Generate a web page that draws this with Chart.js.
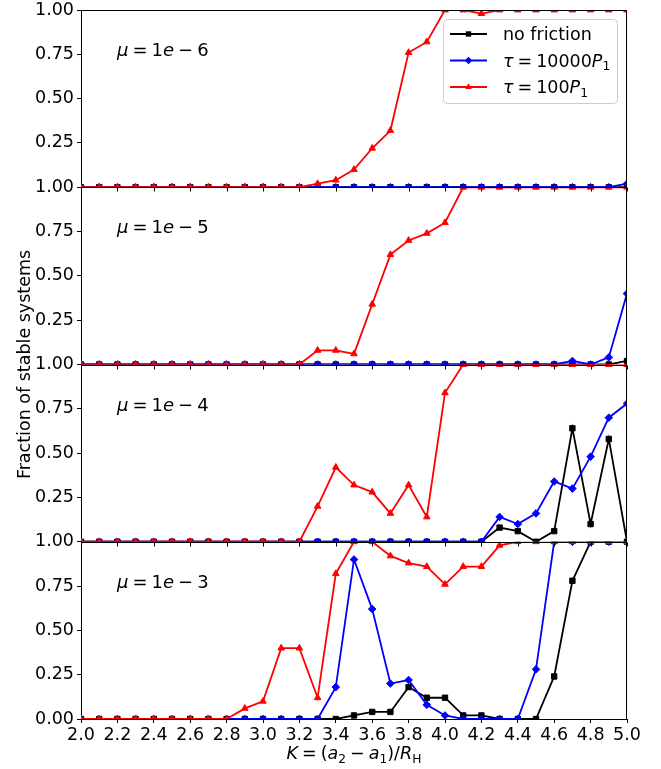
<!DOCTYPE html>
<html>
<head>
<meta charset="utf-8">
<script src="https://cdn.jsdelivr.net/npm/chart.js@4.4.0/dist/chart.umd.min.js"></script>
<style>
  html, body { margin: 0; padding: 0; background: #fff; }
  #wrap { width: 661px; height: 769px; }
</style>
</head>
<body>
<div id="wrap"><canvas id="chart" width="661" height="769"></canvas></div>
<script>
// K = (a2 - a1) / R_H
const kValues = [2.0, 2.1, 2.2, 2.3, 2.4, 2.5, 2.6, 2.7, 2.8, 2.9, 3.0, 3.1, 3.2, 3.3, 3.4, 3.5,
  3.6, 3.7, 3.8, 3.9, 4.0, 4.1, 4.2, 4.3, 4.4, 4.5, 4.6, 4.7, 4.8, 4.9, 5.0];
const xTicks = [2.0, 2.2, 2.4, 2.6, 2.8, 3.0, 3.2, 3.4, 3.6, 3.8, 4.0, 4.2, 4.4, 4.6, 4.8, 5.0];
const yTicks = [0, 0.25, 0.5, 0.75, 1.0];

// mu = 1e-6
const mu6None = [0,0,0,0,0,0,0,0,0,0,0,0,0,0,0,0,0,0,0,0,0,0,0,0,0,0,0,0,0,0,0];
const mu6Slow = [0,0,0,0,0,0,0,0,0,0,0,0,0,0,0,0,0,0,0,0,0,0,0,0,0,0,0,0,0,0,0.02];
const mu6Fast = [0,0,0,0,0,0,0,0,0,0,0,0,0,0.02,0.04,0.10,0.22,0.32,0.76,0.82,1,1,0.98,1,1,1,1,1,1,1,1];
// mu = 1e-5
const mu5None = [0,0,0,0,0,0,0,0,0,0,0,0,0,0,0,0,0,0,0,0,0,0,0,0,0,0,0,0,0,0,0.02];
const mu5Slow = [0,0,0,0,0,0,0,0,0,0,0,0,0,0,0,0,0,0,0,0,0,0,0,0,0,0,0,0.02,0,0.04,0.40];
const mu5Fast = [0,0,0,0,0,0,0,0,0,0,0,0,0,0.08,0.08,0.06,0.34,0.62,0.70,0.74,0.80,1,1,1,1,1,1,1,1,1,1];
// mu = 1e-4
const mu4None = [0,0,0,0,0,0,0,0,0,0,0,0,0,0,0,0,0,0,0,0,0,0,0,0.08,0.06,0,0.06,0.64,0.10,0.58,0];
const mu4Slow = [0,0,0,0,0,0,0,0,0,0,0,0,0,0,0,0,0,0,0,0,0,0,0,0.14,0.10,0.16,0.34,0.30,0.48,0.70,0.78];
const mu4Fast = [0,0,0,0,0,0,0,0,0,0,0,0,0,0.20,0.42,0.32,0.28,0.16,0.32,0.14,0.84,1,1,1,1,1,1,1,1,1,1];
// mu = 1e-3
const mu3None = [0,0,0,0,0,0,0,0,0,0,0,0,0,0,0,0.02,0.04,0.04,0.18,0.12,0.12,0.02,0.02,0,0,0,0.24,0.78,1,1,1];
const mu3Slow = [0,0,0,0,0,0,0,0,0,0,0,0,0,0,0.18,0.90,0.62,0.20,0.22,0.08,0.02,0,0,0,0,0.28,1,1,1,1,1];
const mu3Fast = [0,0,0,0,0,0,0,0,0,0.06,0.10,0.40,0.40,0.12,0.82,1,1,0.92,0.88,0.86,0.76,0.86,0.86,0.98,1,1,1,1,1,1,1];

const FONT = "'DejaVu Sans', sans-serif";
const FS = 17.5;
Chart.defaults.font.family = FONT;
Chart.defaults.font.size = FS;
Chart.defaults.color = '#000';

const panels = [
  { id: 'y1', exp: '6', none: mu6None, slow: mu6Slow, fast: mu6Fast },
  { id: 'y2', exp: '5', none: mu5None, slow: mu5Slow, fast: mu5Fast },
  { id: 'y3', exp: '4', none: mu4None, slow: mu4Slow, fast: mu4Fast },
  { id: 'y4', exp: '3', none: mu3None, slow: mu3Slow, fast: mu3Fast }
];

const series = [
  { key: 'none', label: 'no friction', color: '#000000', style: 'rect', radius: 3.8, order: 2 },
  { key: 'slow', label: 'tau = 10000 P1', color: '#0000ff', style: 'rectRot', radius: 3.8, order: 1 },
  { key: 'fast', label: 'tau = 100 P1', color: '#ff0000', style: 'triangle', radius: 3.8, order: 0 }
];

const datasets = [];
panels.forEach(p => {
  series.forEach(s => {
    datasets.push({
      label: s.label,
      data: kValues.map((k, i) => ({ x: k, y: p[s.key][i] })),
      yAxisID: p.id,
      borderColor: s.color,
      backgroundColor: s.color,
      pointBackgroundColor: s.color,
      pointBorderColor: s.color,
      pointStyle: s.style,
      pointRadius: s.radius,
      pointBorderWidth: 1,
      borderWidth: 1.8,
      tension: 0,
      clip: false,
      order: s.order
    });
  });
});

const scales = {
  x: {
    type: 'linear', min: 2, max: 5,
    afterBuildTicks: s => { s.ticks = xTicks.map(v => ({ value: v })); },
    ticks: { callback: v => v.toFixed(1), padding: 2, maxRotation: 0, autoSkip: false },
    grid: { drawOnChartArea: false, tickLength: 4, color: '#000' },
    border: { color: '#000' },
    afterFit: s => { s.height = 50; s.paddingLeft = 0; s.paddingRight = 0; }
  }
};
panels.forEach((p, i) => {
  const bottom = i === panels.length - 1;
  scales[p.id] = {
    type: 'linear', min: 0, max: 1, position: 'left',
    stack: 'panels', stackWeight: 1, weight: panels.length - i,
    afterBuildTicks: s => { s.ticks = yTicks.map(v => ({ value: v })); },
    ticks: { callback: v => (v === 0 && !bottom) ? '' : v.toFixed(2), padding: 3, autoSkip: false },
    grid: { drawOnChartArea: false, tickLength: 4, color: '#000' },
    border: { color: '#000' },
    afterFit: s => { s.width = 81; s.paddingTop = 0; s.paddingBottom = 0; }
  };
});

// text made of pieces: plain, italic, subscript, or fixed gaps
function pieceFont(r, size) {
  const sz = r.sub ? size * 0.7 : size;
  return (r.it ? 'italic ' : '') + sz + 'px ' + FONT;
}
function runsWidth(ctx, runs, size) {
  let w = 0;
  runs.forEach(r => {
    if (r.gap) { w += r.gap; return; }
    ctx.font = pieceFont(r, size);
    w += ctx.measureText(r.t).width;
  });
  return w;
}
function drawRuns(ctx, runs, x, y, size, align) {
  const w = runsWidth(ctx, runs, size);
  let cx = align === 'center' ? x - w / 2 : x;
  ctx.textAlign = 'left';
  ctx.textBaseline = 'alphabetic';
  runs.forEach(r => {
    if (r.gap) { cx += r.gap; return; }
    ctx.font = pieceFont(r, size);
    ctx.fillText(r.t, cx, y + (r.sub ? size * 0.22 : 0));
    cx += ctx.measureText(r.t).width;
  });
}

function marker(ctx, style, x, y, r, color) {
  ctx.fillStyle = color;
  ctx.beginPath();
  if (style === 'rect') {
    const h = r * Math.SQRT1_2;
    ctx.rect(x - h, y - h, 2 * h, 2 * h);
  } else if (style === 'rectRot') {
    ctx.moveTo(x, y - r); ctx.lineTo(x + r, y); ctx.lineTo(x, y + r); ctx.lineTo(x - r, y);
    ctx.closePath();
  } else {
    ctx.moveTo(x, y - r); ctx.lineTo(x + r * 0.866, y + r * 0.5); ctx.lineTo(x - r * 0.866, y + r * 0.5);
    ctx.closePath();
  }
  ctx.fill();
}

const legendRuns = [
  [{ t: 'no friction' }],
  [{ t: 'τ', it: true }, { gap: 4 }, { t: '=' }, { gap: 4 }, { t: '10000' }, { t: 'P', it: true }, { t: '1', sub: true }],
  [{ t: 'τ', it: true }, { gap: 4 }, { t: '=' }, { gap: 4 }, { t: '100' }, { t: 'P', it: true }, { t: '1', sub: true }]
];

const decor = {
  id: 'decor',
  // clip every dataset to its own panel, like separate axes would
  beforeDatasetDraw(chart, args) {
    const { ctx, chartArea: a } = chart;
    const s = chart.scales[args.meta.yAxisID];
    ctx.save();
    ctx.beginPath();
    ctx.rect(a.left, s.top, a.right - a.left, s.bottom - s.top);
    ctx.clip();
  },
  afterDatasetDraw(chart) {
    chart.ctx.restore();
  },
  afterDatasetsDraw(chart) {
    const { ctx, chartArea: a, scales: sc } = chart;
    const xs = sc.x;
    ctx.save();
    ctx.strokeStyle = '#000';
    ctx.lineWidth = 1;
    panels.forEach((p, i) => {
      const s = sc[p.id];
      const top = Math.round(s.top) + 0.5, bot = Math.round(s.bottom) + 0.5;
      const l = Math.round(a.left) + 0.5, r = Math.round(a.right) - 0.5;
      ctx.beginPath();
      ctx.moveTo(l, top); ctx.lineTo(r, top); ctx.lineTo(r, bot); ctx.lineTo(l, bot);
      ctx.stroke();
      if (i < panels.length - 1) {
        ctx.beginPath();
        xTicks.forEach(v => {
          const px = Math.round(xs.getPixelForValue(v)) + 0.5;
          ctx.moveTo(px, bot); ctx.lineTo(px, bot + 4);
        });
        ctx.stroke();
      }
      ctx.fillStyle = '#000';
      drawRuns(ctx, [{ t: 'μ', it: true }, { gap: 4 }, { t: '=' }, { gap: 4 }, { t: '1' },
        { t: 'e', it: true }, { gap: 4 }, { t: '−' }, { gap: 4 }, { t: p.exp }],
        a.left + 36, s.top + 46, 18, 'left');
    });
    ctx.restore();
  },
  afterDraw(chart) {
    const { ctx, chartArea: a } = chart;
    ctx.save();
    // legend
    const bx = a.right - 184, by = a.top + 9, bw = 174, bh = 84;
    ctx.fillStyle = 'rgba(255,255,255,0.8)';
    ctx.strokeStyle = '#cccccc';
    ctx.lineWidth = 1;
    ctx.beginPath();
    ctx.roundRect(bx + 0.5, by + 0.5, bw, bh, 4);
    ctx.fill();
    ctx.stroke();
    series.forEach((s, i) => {
      const cy = by + 15 + i * 26.5;
      ctx.strokeStyle = s.color;
      ctx.lineWidth = 1.8;
      ctx.beginPath();
      ctx.moveTo(bx + 7, cy); ctx.lineTo(bx + 44, cy);
      ctx.stroke();
      marker(ctx, s.style, bx + 25.5, cy, s.radius, s.color);
      ctx.fillStyle = '#000';
      drawRuns(ctx, legendRuns[i], bx + 60, cy + 6, FS, 'left');
    });
    // axis titles
    ctx.fillStyle = '#000';
    drawRuns(ctx, [{ t: 'K', it: true }, { gap: 4 }, { t: '=' }, { gap: 4 }, { t: '(' }, { t: 'a', it: true },
      { t: '2', sub: true }, { gap: 4 }, { t: '−' }, { gap: 4 }, { t: 'a', it: true }, { t: '1', sub: true },
      { t: ')/' }, { t: 'R', it: true }, { t: 'H', sub: true }],
      (a.left + a.right) / 2, 759, FS, 'center');
    ctx.translate(30, (a.top + a.bottom) / 2);
    ctx.rotate(-Math.PI / 2);
    ctx.font = FS + 'px ' + FONT;
    ctx.textAlign = 'center';
    ctx.textBaseline = 'alphabetic';
    ctx.fillText('Fraction of stable systems', 0, 0);
    ctx.restore();
  }
};

new Chart(document.getElementById('chart'), {
  type: 'line',
  data: { datasets },
  options: {
    responsive: false,
    animation: false,
    layout: { padding: { left: 0, right: 34, top: 10, bottom: 0 } },
    plugins: { legend: { display: false }, tooltip: { enabled: false } },
    scales
  },
  plugins: [decor]
});
</script>
</body>
</html>
